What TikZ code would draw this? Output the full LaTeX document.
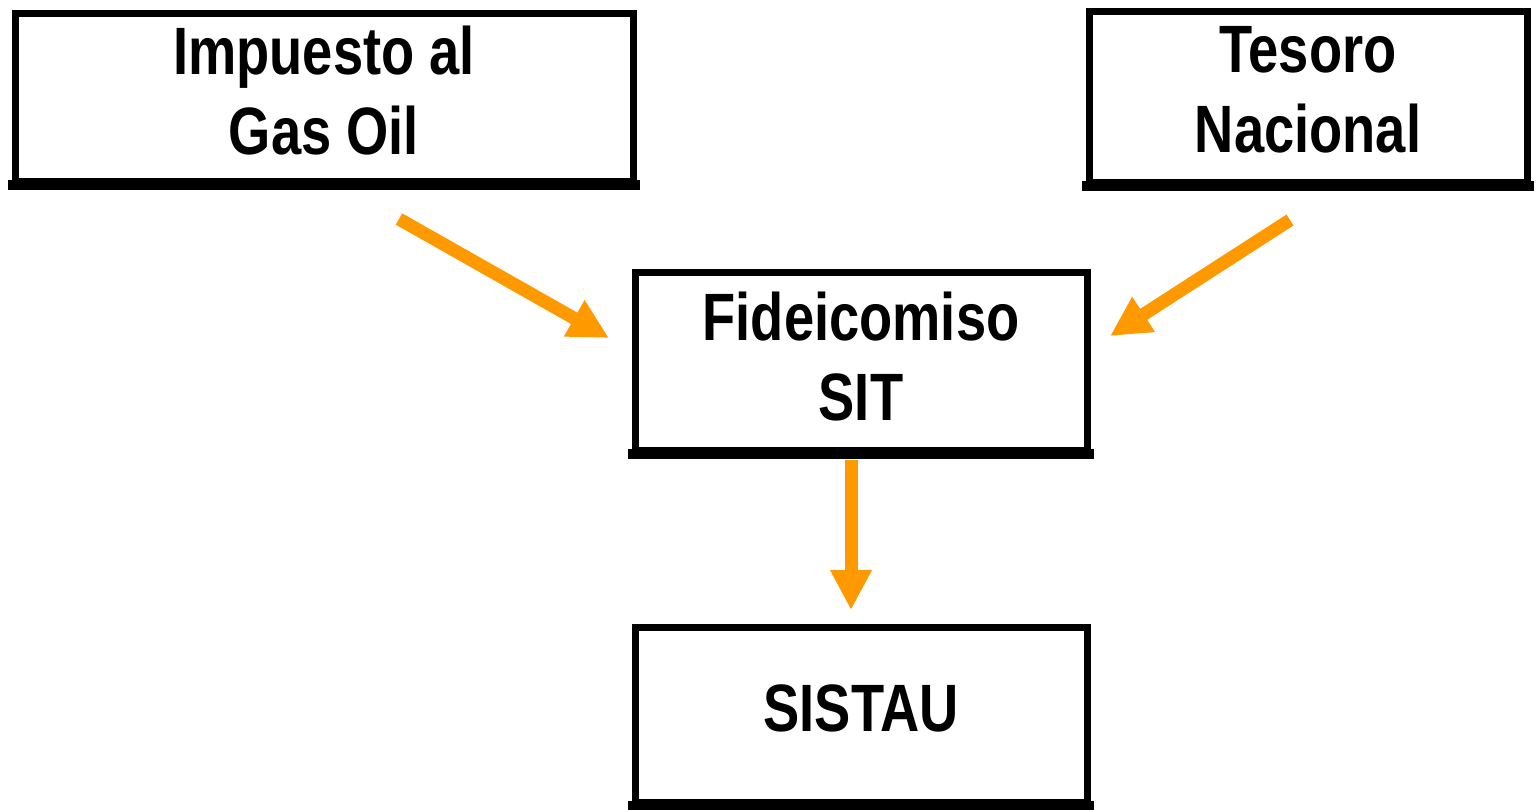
\documentclass[tikz,border=0pt]{standalone}
\usepackage{fontspec}
\setmainfont{Liberation Sans}[FakeStretch=0.81]
\usetikzlibrary{arrows.meta}
\definecolor{flow}{HTML}{FF9900}
\newcommand\liftup[1]{\rule[-#1]{0pt}{0pt}}
\begin{document}
\begin{tikzpicture}[x=0.5pt,y=-0.5pt,
  box/.style={draw=black, line width=3.5pt, fill=white, rectangle, inner sep=0pt,
    align=center, font=\bfseries\fontsize{33.5}{40}\selectfont},
  flowarrow/.style={draw=flow, line width=6.5pt,
    -{Triangle[width=19.5pt,length=20pt]}}]
\useasboundingbox (0,0) rectangle (1537,809);
\node[box, minimum width=309pt, minimum height=84pt] (imp) at (324,97) {Impuesto al\\Gas Oil\liftup{7pt}};
\node[box, minimum width=219pt, minimum height=85.5pt] (tes) at (1308,96.5) {Tesoro\\Nacional\liftup{7pt}};
\node[box, minimum width=226pt, minimum height=89pt] (fid) at (861,361) {Fideicomiso\\SIT\liftup{4.5pt}};
\node[box, minimum width=226pt, minimum height=87.5pt] (sis) at (861,714.5) {SISTAU\liftup{6pt}};
\foreach \b in {imp,tes,fid,sis}{
  \draw[line width=5pt] ([xshift=-1.75pt]\b.south west) -- ([xshift=1.75pt]\b.south east);
}
\coordinate (a1s) at (399,219);
\coordinate (a1e) at (609,338);
\coordinate (a2s) at (1290,220);
\coordinate (a2e) at (1110,336);
\coordinate (a3s) at (851,460);
\coordinate (a3e) at (851,610);
\draw[flowarrow] (a1s) -- (a1e);
\draw[flowarrow] (a2s) -- (a2e);
\draw[flowarrow] (a3s) -- (a3e);
\end{tikzpicture}
\end{document}
